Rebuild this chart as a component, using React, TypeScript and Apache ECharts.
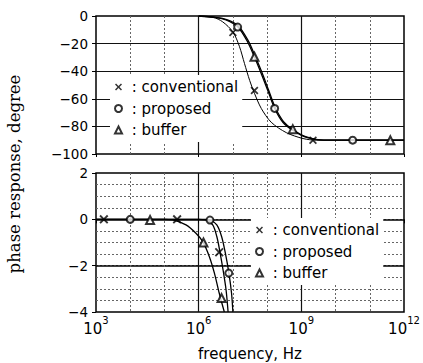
import React, { useEffect, useRef } from "react";
import * as echarts from "echarts";

// ---- data (x values are log10 of frequency in Hz) ----
const legendNames = ["conventional", "proposed", "buffer"];
const xTickExps = [3, 6, 9, 12];

// top panel: phase response, degree
const topConvCurveX = [6.0, 6.43, 6.7, 7.0, 7.19, 7.34, 7.49, 7.63, 7.83, 8.12, 8.56, 9.05, 9.45, 12];
const topConvCurveY = [0, -1, -4.2, -11.5, -22, -34.5, -46.7, -56, -67, -77, -84.5, -88.8, -90, -90];
const topPropCurveX = [6.0, 6.5, 6.8, 7.14, 7.43, 7.63, 7.83, 8.02, 8.22, 8.46, 8.76, 9.15, 9.64, 12];
const topPropCurveY = [0, -1.2, -2.9, -7.8, -18.8, -29.7, -41.8, -54, -67, -77, -83, -88, -90, -90];
const topBufCurveX = [6.0, 6.5, 6.82, 7.16, 7.45, 7.65, 7.85, 8.04, 8.24, 8.48, 8.78, 9.17, 9.66, 12];
const topBufCurveY = [0, -1, -2.6, -7.2, -18, -29, -41, -53.5, -66.5, -76.5, -82.8, -87.8, -90, -90];

const topConvMarkX = [7.0, 7.63, 9.34];
const topConvMarkY = [-12, -54, -90];
const topPropMarkX = [7.14, 8.22, 10.5];
const topPropMarkY = [-8, -67, -90];
const topBufMarkX = [7.63, 8.75, 11.6];
const topBufMarkY = [-29.5, -82, -90];

// bottom panel: phase response, degree (zoomed)
const botConvCurveX = [3, 6.0, 6.21, 6.41, 6.53, 6.62, 6.72, 6.8, 6.86];
const botConvCurveY = [0, 0, -0.02, -0.24, -0.74, -1.39, -2.25, -3.04, -4];
const botPropCurveX = [3, 6.2, 6.35, 6.53, 6.67, 6.78, 6.88, 6.96, 7.0];
const botPropCurveY = [0, 0, -0.04, -0.24, -0.74, -1.46, -2.29, -3.18, -4];
const botBufCurveX = [3, 5.0, 5.24, 5.63, 5.92, 6.12, 6.31, 6.46, 6.6, 6.75];
const botBufCurveY = [0, 0, -0.02, -0.24, -0.6, -0.96, -1.6, -2.32, -3.18, -4];

const botConvMarkX = [3.23, 5.37, 6.6];
const botConvMarkY = [0, 0, -1.42];
const botPropMarkX = [4.0, 6.33, 6.88];
const botPropMarkY = [0, -0.03, -2.32];
const botBufMarkX = [4.58, 6.14, 6.67];
const botBufMarkY = [-0.03, -1.0, -3.4];

const zip = (xs: number[], ys: number[]) => xs.map((x, i) => [x, ys[i]]);

const CROSS = "path://M1.5,0L5,3.5L8.5,0L10,1.5L6.5,5L10,8.5L8.5,10L5,6.5L1.5,10L0,8.5L3.5,5L0,1.5Z";
const SANS = "DejaVu Sans";

const minus = (v: number) => String(v).replace("-", "\u2212");

function curve(name: string, xs: number[], ys: number[], xi: number, yi: number, width: number) {
  return {
    type: "line",
    name,
    xAxisIndex: xi,
    yAxisIndex: yi,
    data: zip(xs, ys),
    symbol: "none",
    smooth: 0.3,
    lineStyle: { color: "#000", width },
    silent: true,
    z: 2,
  };
}

function marks(name: string, xs: number[], ys: number[], xi: number, yi: number, symbol: string, size: number) {
  const isCross = symbol === CROSS;
  return {
    type: "scatter",
    name,
    xAxisIndex: xi,
    yAxisIndex: yi,
    data: zip(xs, ys),
    symbol,
    symbolSize: size,
    itemStyle: { color: "#000", borderColor: "#000", borderWidth: isCross ? 0 : 1.6 },
    z: 3,
  };
}

const dashed = { show: true, showMinLine: false, showMaxLine: false, lineStyle: { color: "#666", width: 1, type: [2, 2] } };
const solid = { show: true, showMinLine: false, showMaxLine: false, lineStyle: { color: "#111", width: 1.2 } };

function legendAt(left: number, top: number) {
  return {
    data: legendNames,
    orient: "vertical",
    left,
    top,
    itemWidth: 7,
    itemHeight: 7,
    itemGap: 3.5,
    padding: [3, 4, 3, 4],
    backgroundColor: "#fff",
    selectedMode: false,
    z: 1,
    formatter: " : {name}",
    textStyle: { fontFamily: SANS, fontSize: 15, color: "#000", lineHeight: 18 },
  };
}

export default function App() {
  const ref = useRef<HTMLDivElement>(null);
  useEffect(() => {
    if (!ref.current) return;
    const chart = echarts.init(ref.current, null, { renderer: "svg" });
    const option: any = {
      animation: false,
      backgroundColor: "#fff",
      grid: [
        { left: 96, top: 16, width: 308, height: 138, show: true, borderColor: "#000", borderWidth: 1.5, backgroundColor: "transparent" },
        { left: 96, top: 173, width: 308, height: 139, show: true, borderColor: "#000", borderWidth: 1.5, backgroundColor: "transparent" },
      ],
      xAxis: [
        { type: "value", gridIndex: 0, position: "bottom", min: 3, max: 12, interval: 1, axisLine: { show: false }, axisTick: { show: false }, axisLabel: { show: false }, splitLine: dashed },
        { type: "value", gridIndex: 0, position: "bottom", min: 3, max: 12, interval: 3, axisLine: { show: false }, axisTick: { show: true, length: 3, lineStyle: { color: "#000" } }, axisLabel: { show: false }, splitLine: solid },
        { type: "value", gridIndex: 1, position: "bottom", min: 3, max: 12, interval: 1, axisLine: { show: false }, axisTick: { show: false }, axisLabel: { show: false }, splitLine: dashed },
        {
          type: "value", gridIndex: 1, position: "bottom", min: 3, max: 12, interval: 3,
          axisLine: { show: false },
          axisTick: { show: true, length: 4, lineStyle: { color: "#000" } },
          splitLine: solid,
          axisLabel: {
            margin: 2,
            formatter: (v: number) => (xTickExps.includes(v) ? "{b|10}{s|" + v + "}" : ""),
            rich: {
              b: { fontFamily: SANS, fontSize: 15, color: "#000", lineHeight: 22, verticalAlign: "bottom" },
              s: { fontFamily: SANS, fontSize: 10, color: "#000", lineHeight: 10, verticalAlign: "top", padding: [1, 0, 0, 0] },
            },
          },
          name: "frequency, Hz",
          nameLocation: "middle",
          nameGap: 34,
          nameTextStyle: { fontFamily: SANS, fontSize: 15, color: "#000" },
        },
      ],
      yAxis: [
        {
          type: "value", gridIndex: 0, position: "left", min: -100, max: 0, interval: 20,
          axisLine: { show: false },
          axisTick: { show: true, length: 4, lineStyle: { color: "#000" } },
          axisLabel: { margin: 8, formatter: minus, fontFamily: SANS, fontSize: 13.5, color: "#000" },
          splitLine: solid,
        },
        { type: "value", gridIndex: 1, position: "left", min: -4, max: 2, interval: 0.5, axisLine: { show: false }, axisTick: { show: false }, axisLabel: { show: false }, splitLine: dashed },
        {
          type: "value", gridIndex: 1, position: "left", min: -4, max: 2, interval: 2,
          axisLine: { show: false },
          axisTick: { show: true, length: 4, lineStyle: { color: "#000" } },
          axisLabel: { margin: 8, formatter: minus, fontFamily: SANS, fontSize: 13.5, color: "#000" },
          splitLine: { show: true, showMinLine: false, showMaxLine: false, lineStyle: { color: "#000", width: 1.6 } },
        },
      ],
      legend: [legendAt(110, 75), legendAt(251, 218)],
      series: [
        curve("conventional curve top", topConvCurveX, topConvCurveY, 0, 0, 1),
        curve("proposed curve top", topPropCurveX, topPropCurveY, 0, 0, 1.3),
        curve("buffer curve top", topBufCurveX, topBufCurveY, 0, 0, 1.3),
        marks("conventional", topConvMarkX, topConvMarkY, 0, 0, CROSS, 8),
        marks("proposed", topPropMarkX, topPropMarkY, 0, 0, "emptyCircle", 7),
        marks("buffer", topBufMarkX, topBufMarkY, 0, 0, "emptyTriangle", 8),
        curve("conventional curve bottom", botConvCurveX, botConvCurveY, 2, 1, 1.3),
        curve("proposed curve bottom", botPropCurveX, botPropCurveY, 2, 1, 1.3),
        curve("buffer curve bottom", botBufCurveX, botBufCurveY, 2, 1, 1.3),
        marks("conventional", botConvMarkX, botConvMarkY, 2, 1, CROSS, 9),
        marks("proposed", botPropMarkX, botPropMarkY, 2, 1, "emptyCircle", 7),
        marks("buffer", botBufMarkX, botBufMarkY, 2, 1, "emptyTriangle", 8),
      ],
      graphic: [
        {
          type: "text",
          x: 14,
          y: 174,
          rotation: Math.PI / 2,
          style: {
            text: "phase response, degree",
            fontFamily: "DejaVu Serif",
            fontSize: 16.5,
            fill: "#000",
            align: "center",
            verticalAlign: "middle",
          },
        },
      ],
    };
    chart.setOption(option);
    return () => chart.dispose();
  }, []);
  return <div ref={ref} style={{ width: 423, height: 363, position: "absolute", left: 0, top: 0 }} />;
}
